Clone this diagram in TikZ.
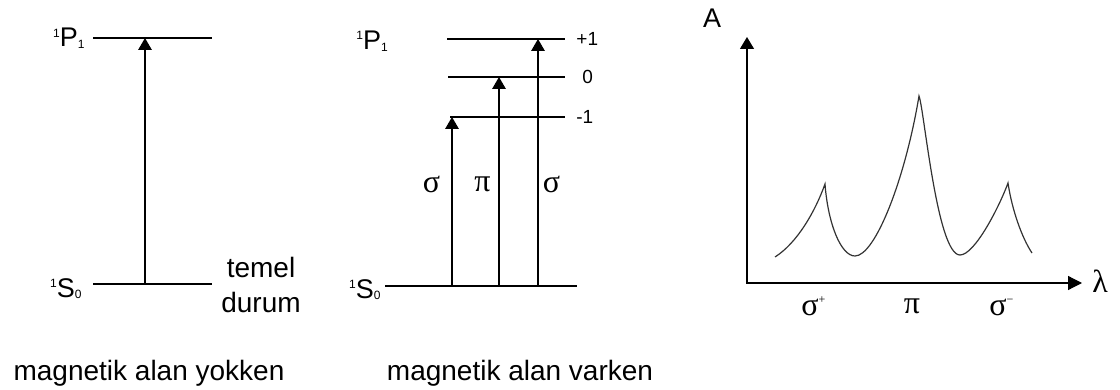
\documentclass[tikz,border=0pt]{standalone}
\usepackage{fontspec}
\setmainfont{Liberation Sans}
\newfontfamily\grk{Liberation Serif}
\usetikzlibrary{positioning, arrows.meta}
\newcommand{\term}[3]{\raisebox{5pt}{\fontsize{6}{6}\selectfont #1}#2\raisebox{-1pt}{\fontsize{6}{6}\selectfont #3}}

\begin{document}
\begin{tikzpicture}[
    x=0.5pt, y=-0.5pt,
    lvl/.style={line width=0.6pt},
    up/.style={-{Triangle[length=6pt,width=6.8pt]}, line width=0.6pt},
    ax/.style={{Triangle[length=6pt,width=7pt]}-{Triangle[length=7pt,width=7pt]}, line width=0.6pt},
    curve/.style={line width=0.6pt, black!80},
    termlab/.style={font=\fontsize{13.5}{13.5}\selectfont, inner sep=0pt},
    mlab/.style={font=\fontsize{9.5}{10}\selectfont, inner sep=0pt, anchor=west},
    caption/.style={font=\fontsize{14}{17.5}\selectfont, inner sep=0pt},
    greek/.style={font=\fontsize{16}{16}\selectfont\grk, inner sep=0pt},
  ]
    \useasboundingbox (0,0) rectangle (1120,390);

    % ohne Feld
    \coordinate (pa-l) at (93,38);  \coordinate (pa-r) at (212,38);
    \coordinate (sa-l) at (93,284); \coordinate (sa-r) at (212,284);
    \draw[lvl] (pa-l) -- (pa-r);
    \draw[lvl] (sa-l) -- (sa-r);
    \coordinate (ua) at (145,284); \coordinate (ub) at (145,38);
    \draw[up] (ua) -- (ub);
    \node[termlab, anchor=base east] (p1a) at (85,47) {\term{1}{P}{1}};
    \node[termlab, anchor=base east] (s0a) at (82,297) {\term{1}{S}{0}};
    \node[caption, align=center] (temel) at (261,284.5) {temel\\durum};
    \node[caption, anchor=base] (capa) at (149,380) {magnetik alan yokken};

    % mit Feld
    \coordinate (pl-l) at (447,39);  \coordinate (pl-r) at (565,39);
    \coordinate (zr-l) at (448,77);  \coordinate (zr-r) at (565,77);
    \coordinate (mn-l) at (450,117); \coordinate (mn-r) at (565,117);
    \coordinate (sb-l) at (385,286); \coordinate (sb-r) at (577,286);
    \draw[lvl] (pl-l) -- (pl-r);
    \draw[lvl] (zr-l) -- (zr-r);
    \draw[lvl] (mn-l) -- (mn-r);
    \draw[lvl] (sb-l) -- (sb-r);
    \node[mlab] (plab) at (576,39) {+1};
    \node[mlab] (zlab) at (582,77) {0};
    \node[mlab] (mlab) at (576,117) {-1};
    \node[termlab, anchor=base west] (p1b) at (356,50) {\term{1}{P}{1}};
    \node[termlab, anchor=base east] (s0b) at (381,298) {\term{1}{S}{0}};
    \coordinate (s1) at (452,286); \coordinate (s1t) at (452,117);
    \coordinate (pi) at (499,286); \coordinate (pit) at (499,77);
    \coordinate (s2) at (538,286); \coordinate (s2t) at (538,39);
    \draw[up] (s1) -- (s1t);
    \draw[up] (pi) -- (pit);
    \draw[up] (s2) -- (s2t);
    \node[greek] (sgl) at (431.5,184) {σ};
    \node[greek] (pil) at (482.5,184) {π};
    \node[greek] (sgr) at (551.5,184) {σ};
    \node[caption, anchor=base] (capb) at (520,380) {magnetik alan varken};

    % Spektrum
    \coordinate (org) at (747,283);
    \coordinate (ytip) at (747,37);
    \coordinate (xtip) at (1082,283);
    \draw[ax] (ytip) |- (xtip);
    \node[font=\fontsize{13.5}{14}\selectfont, inner sep=0pt] (alab) at (712,18) {A};
    \node[greek] (llab) at (1100,281) {λ};
    \draw[curve] (775,257) .. controls (797,243) and (815,212) .. (825,184)
      .. controls (828,224) and (841,256) .. (855,256)
      .. controls (875,256) and (905,180) .. (919,96)
      .. controls (924,108) and (937,255) .. (960,255)
      .. controls (975,255) and (1000,205) .. (1008,183)
      .. controls (1012,210) and (1022,238) .. (1032,253);
    \node[greek, anchor=base west] (spl) at (801,315) {σ\raisebox{6pt}{\fontsize{6}{6}\selectfont +}};
    \node[greek, anchor=base] (pib) at (912,314) {π};
    \node[greek, anchor=base west] (smn) at (989,315) {σ\raisebox{6pt}{\fontsize{6}{6}\selectfont −}};
  \end{tikzpicture}
\end{document}
